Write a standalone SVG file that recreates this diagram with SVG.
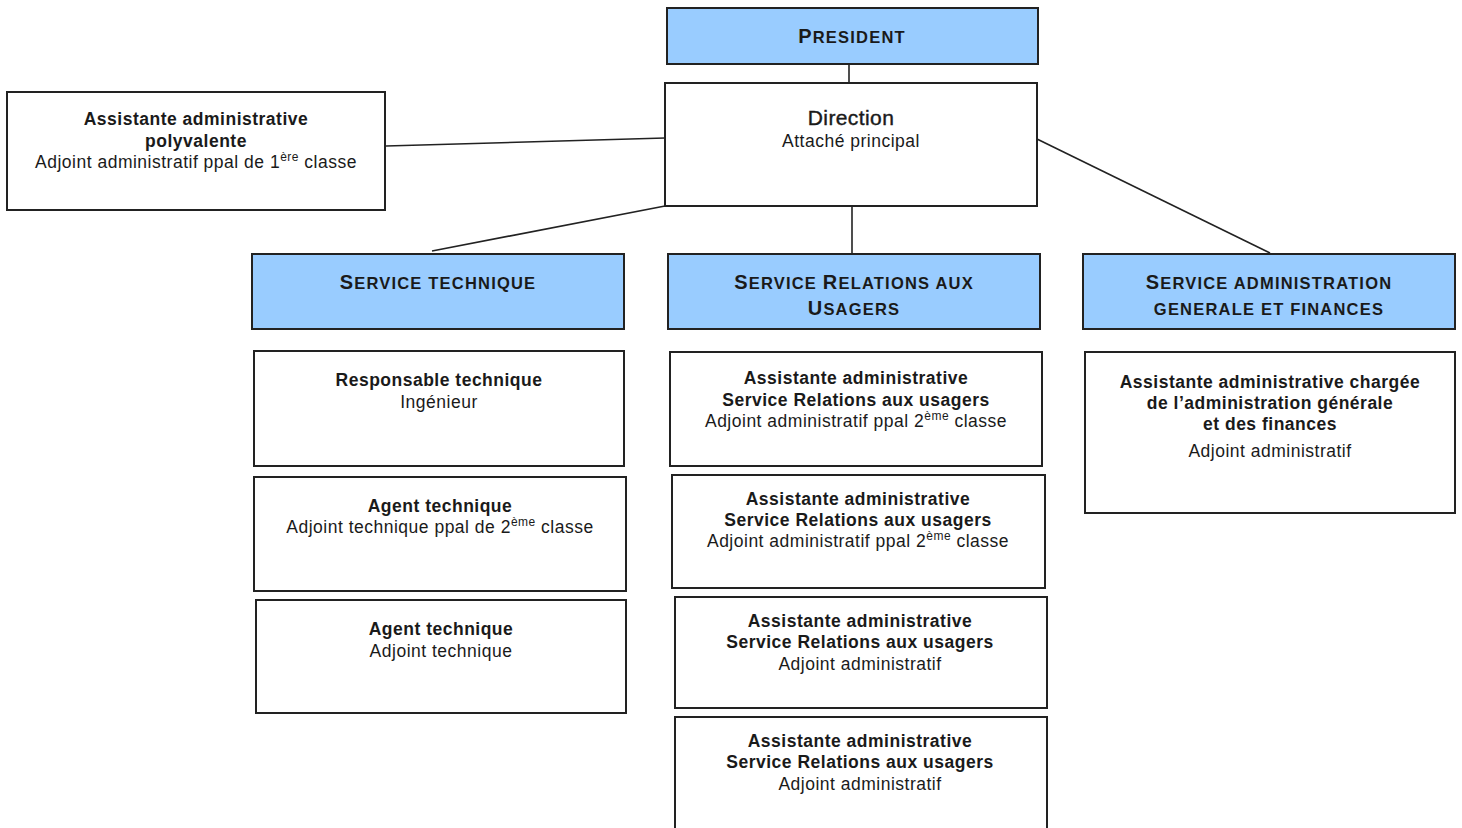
<svg xmlns="http://www.w3.org/2000/svg" width="1462" height="828" viewBox="0 0 1462 828">
<style>
.box{fill:#fff;stroke:#222;stroke-width:2}
.hd{fill:#99CCFF;stroke:#222;stroke-width:2}
text{font-family:"Liberation Sans",Arial,sans-serif;fill:#1a1a1a;text-anchor:middle}
.b{font-weight:bold;font-size:17.5px;letter-spacing:0.5px}
.r{font-size:17.5px;letter-spacing:0.5px}
.h{font-weight:bold;font-size:16.5px;letter-spacing:1.2px}
.big{font-size:20px}
.sup{font-size:12px}
.con line{stroke:#222;stroke-width:1.6}
</style>
<rect width="1462" height="828" fill="#fff"/>
<g class="con" id="connectors">
<line x1="849" y1="64" x2="849" y2="83"/>
<line x1="386" y1="146" x2="665" y2="138"/>
<line x1="665" y1="206" x2="432" y2="251"/>
<line x1="852" y1="206" x2="852" y2="254"/>
<line x1="1037" y1="139" x2="1270" y2="253"/>
</g>
<g id="president">
<rect class="hd" x="667" y="8" width="371" height="56"/>
<text x="852" y="43" class="h"><tspan class="big">P</tspan>RESIDENT</text>
</g>
<g id="direction">
<rect class="box" x="665" y="83" width="372" height="123"/>
<text x="851" y="125" style="font-size:21px;letter-spacing:0.4px;stroke:#1a1a1a;stroke-width:0.4">Direction</text>
<text x="851" y="147" class="r">Attaché principal</text>
</g>
<g id="assistante-polyvalente">
<rect class="box" x="7" y="92" width="378" height="118"/>
<text x="196" y="125" class="b">Assistante administrative</text>
<text x="196" y="147" class="b">polyvalente</text>
<text x="196" y="168" class="r">Adjoint administratif ppal de 1<tspan class="sup" dy="-7">ère</tspan><tspan dy="7"> classe</tspan></text>
</g>
<g id="service-technique">
<rect class="hd" x="252" y="254" width="372" height="75"/>
<text x="438" y="289" class="h"><tspan class="big">S</tspan>ERVICE TECHNIQUE</text>
</g>
<g id="service-relations">
<rect class="hd" x="668" y="254" width="372" height="75"/>
<text x="854" y="289" class="h"><tspan class="big">S</tspan>ERVICE <tspan class="big">R</tspan>ELATIONS AUX</text>
<text x="854" y="315" class="h"><tspan class="big">U</tspan>SAGERS</text>
</g>
<g id="service-administration">
<rect class="hd" x="1083" y="254" width="372" height="75"/>
<text x="1269" y="289" class="h"><tspan class="big">S</tspan>ERVICE ADMINISTRATION</text>
<text x="1269" y="315" class="h">GENERALE ET FINANCES</text>
</g>
<g id="responsable-technique">
<rect class="box" x="254" y="351" width="370" height="115"/>
<text x="439" y="386" class="b">Responsable technique</text>
<text x="439" y="408" class="r">Ingénieur</text>
</g>
<g id="agent-technique-1">
<rect class="box" x="254" y="477" width="372" height="114"/>
<text x="440" y="512" class="b">Agent technique</text>
<text x="440" y="533" class="r">Adjoint technique ppal de 2<tspan class="sup" dy="-7">ème</tspan><tspan dy="7"> classe</tspan></text>
</g>
<g id="agent-technique-2">
<rect class="box" x="256" y="600" width="370" height="113"/>
<text x="441" y="635" class="b">Agent technique</text>
<text x="441" y="657" class="r">Adjoint technique</text>
</g>
<g id="assistante-sru-1">
<rect class="box" x="670" y="352" width="372" height="114"/>
<text x="856" y="384" class="b">Assistante administrative</text>
<text x="856" y="406" class="b">Service Relations aux usagers</text>
<text x="856" y="427" class="r">Adjoint administratif ppal 2<tspan class="sup" dy="-7">ème</tspan><tspan dy="7"> classe</tspan></text>
</g>
<g id="assistante-sru-2">
<rect class="box" x="672" y="475" width="373" height="113"/>
<text x="858" y="505" class="b">Assistante administrative</text>
<text x="858" y="526" class="b">Service Relations aux usagers</text>
<text x="858" y="547" class="r">Adjoint administratif ppal 2<tspan class="sup" dy="-7">ème</tspan><tspan dy="7"> classe</tspan></text>
</g>
<g id="assistante-sru-3">
<rect class="box" x="675" y="597" width="372" height="111"/>
<text x="860" y="627" class="b">Assistante administrative</text>
<text x="860" y="648" class="b">Service Relations aux usagers</text>
<text x="860" y="670" class="r">Adjoint administratif</text>
</g>
<g id="assistante-sru-4">
<rect class="box" x="675" y="717" width="372" height="120"/>
<text x="860" y="747" class="b">Assistante administrative</text>
<text x="860" y="768" class="b">Service Relations aux usagers</text>
<text x="860" y="790" class="r">Adjoint administratif</text>
</g>
<g id="assistante-agf">
<rect class="box" x="1085" y="352" width="370" height="161"/>
<text x="1270" y="388" class="b">Assistante administrative chargée</text>
<text x="1270" y="409" class="b">de l’administration générale</text>
<text x="1270" y="430" class="b">et des finances</text>
<text x="1270" y="457" class="r">Adjoint administratif</text>
</g>
</svg>
